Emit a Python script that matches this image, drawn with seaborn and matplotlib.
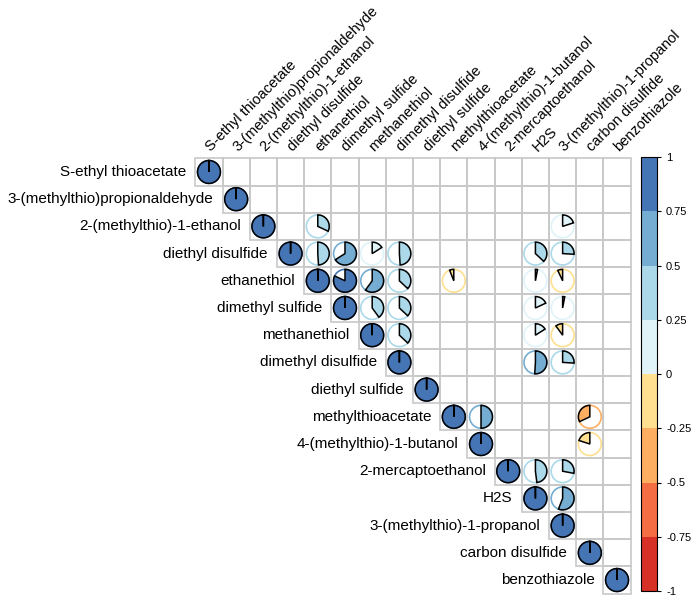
import numpy as np
import matplotlib
matplotlib.use("Agg")
import matplotlib.pyplot as plt
import seaborn as sns
from matplotlib.colors import ListedColormap, BoundaryNorm
from matplotlib.patches import Polygon, Circle, Rectangle
from matplotlib.cm import ScalarMappable

compounds = ['S-ethyl thioacetate', '3-(methylthio)propionaldehyde', '2-(methylthio)-1-ethanol',
             'diethyl disulfide', 'ethanethiol', 'dimethyl sulfide', 'methanethiol',
             'dimethyl disulfide', 'diethyl sulfide', 'methylthioacetate',
             '4-(methylthio)-1-butanol', '2-mercaptoethanol', 'H2S',
             '3-(methylthio)-1-propanol', 'carbon disulfide', 'benzothiazole']

# off-diagonal correlations shown (row, column, r)
pair_row = [2, 2, 3, 3, 3, 3, 3, 3, 4, 4, 4, 4, 4, 4, 5, 5, 5, 5, 6, 6, 6, 7, 7, 9, 9, 10, 11, 11, 12]
pair_col = [4, 13, 4, 5, 6, 7, 12, 13, 5, 6, 7, 9, 12, 13, 6, 7, 12, 13, 7, 12, 13, 12, 13, 10, 14, 14, 12, 13, 13]
pair_r = [0.32, 0.20, 0.49, 0.66, 0.16, 0.49, 0.37, 0.26, 0.82, 0.60, 0.37, -0.06, 0.03, -0.07,
          0.40, 0.37, 0.18, 0.03, 0.37, 0.16, -0.10, 0.51, 0.26, 0.50, -0.32, -0.20,
          0.48, 0.28, 0.56]

band_colors = ['#d73027', '#f46d43', '#fdae61', '#fee090', '#e0f3f8', '#abd9e9', '#74add1', '#4575b4']
cbar_ticks = [-1, -0.75, -0.5, -0.25, 0, 0.25, 0.5, 0.75, 1]
cbar_labels = ['-1', '-0.75', '-0.5', '-0.25', '0', '0.25', '0.5', '0.75', '1']

n = len(compounds)
corr = np.full((n, n), np.nan)
for i in range(n):
    corr[i, i] = 1.0
for i, j, r in zip(pair_row, pair_col, pair_r):
    corr[i, j] = r

plt.rcParams['font.family'] = ['Liberation Sans', 'DejaVu Sans']
cmap = ListedColormap(band_colors)
norm = BoundaryNorm(cbar_ticks, cmap.N)

fig = plt.figure(figsize=(6.92, 6.01), dpi=100)
ax = fig.add_axes([194 / 692, 1 - 595 / 601, 438 / 692, 438 / 601])

mask = np.tril(np.ones((n, n), dtype=bool), k=-1)
sns.heatmap(np.zeros((n, n)), mask=mask, cmap=ListedColormap(['white']), cbar=False,
            linewidths=0, square=True, xticklabels=False, yticklabels=False, ax=ax)

# cell borders of the upper triangle only
for i in range(n):
    for j in range(i, n):
        ax.add_patch(Rectangle((j, i), 1, 1, fill=False, ec='#c8c8c8', lw=1.2, zorder=2))

rad = 0.42
for i in range(n):
    for j in range(i, n):
        r = corr[i, j]
        if np.isnan(r):
            continue
        col = cmap(norm(r))
        cx, cy = j + 0.5, i + 0.5
        ax.add_patch(Circle((cx, cy), rad, fill=False, ec=col, lw=1.2, zorder=3))
        phi = np.radians(np.linspace(0, 360 * r, 100))
        xs = np.concatenate([[cx], cx + rad * np.sin(phi)])
        ys = np.concatenate([[cy], cy - rad * np.cos(phi)])
        ax.add_patch(Polygon(np.column_stack([xs, ys]), closed=True, fc=col, ec='black',
                             lw=1.1, zorder=4))

ax.set_xlim(-0.05, n + 0.05)
ax.set_ylim(n + 0.05, -0.05)
ax.set_axis_off()

for i, name in enumerate(compounds):
    ax.text(i - 0.33, i + 0.5, name, ha='right', va='center', fontsize=11)
    ax.text(i + 0.58, -0.25, name, ha='left', va='baseline', rotation=45,
            rotation_mode='anchor', fontsize=10.5)

cax = fig.add_axes([641 / 692, 1 - 591 / 601, 16 / 692, 434 / 601])
cb = fig.colorbar(ScalarMappable(norm=norm, cmap=cmap), cax=cax, ticks=cbar_ticks)
cb.ax.set_yticklabels(cbar_labels)
cb.ax.tick_params(labelsize=8, length=3, width=0.8)
cb.outline.set_linewidth(0.8)

plt.savefig('out.png', dpi=100)
plt.close()
